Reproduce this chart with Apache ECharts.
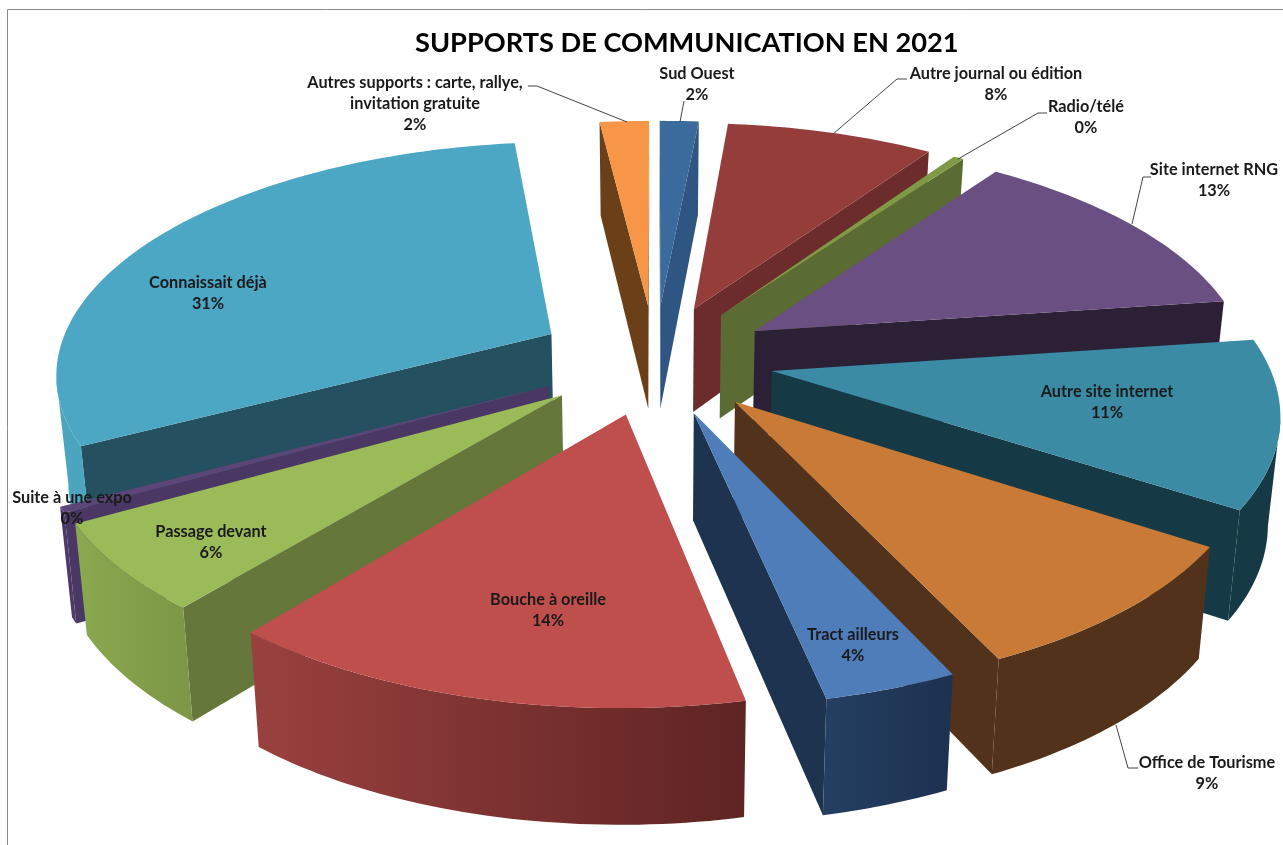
<!DOCTYPE html>
<html><head><meta charset="utf-8">
<style>html,body{margin:0;padding:0;background:#fff}#c{width:1283px;height:845px}</style>
<script src="https://cdn.jsdelivr.net/npm/echarts@6/dist/echarts.min.js"></script>
</head><body><div id="c"></div>
<script>
const titleText = 'SUPPORTS DE COMMUNICATION EN 2021';
const categories = ['Sud Ouest','Autre journal ou édition','Radio/télé','Site internet RNG','Autre site internet','Office de Tourisme','Tract ailleurs','Bouche à oreille','Passage devant','Suite à une expo','Connaissait déjà','Autres supports : carte, rallye,\ninvitation gratuite'];
const values = [1.5,8.0,0.4,12.9,11.4,8.9,3.6,14.2,5.9,0.4,30.9,1.9];
const topColors = ['#3B6A9C','#953D3B','#7F9A45','#6A4F82','#3B8BA5','#C87A36','#4E7DB9','#BE4F4C','#9BBB59','#5C4679','#4BA7C3','#F79646'];
const cutColors = ['#2F5682','#6B2C2B','#5A6B33','#2B2035','#163A45','#52321A','#1E3350','#5F2525','#65773A','#4A3764','#24505F','#6B3F17'];
const outerFrom = ['#2F5682','#6B2C2B','#5A6B33','#2B2035','#163A45','#52321A','#243F62','#9A413F','#8AA94F','#4D3A68','#4BA5BF','#6B3F17'];
const outerTo   = ['#2F5682','#6B2C2B','#5A6B33','#2B2035','#163A45','#52321A','#1D3150','#5E2423','#7D9746','#4D3A68','#4BA5BF','#6B3F17'];
// label layout: centre x, first-line centre y
const labelPlaces = [[697,74],[996,74],[1086,107],[1214,170],[1107,392],[1207,763],[853,635],[548,600],[211,532],[72,498],[208,283],[415,83]];
const leaders = [
  [[684,101],[680,122]],
  [[907,79],[897,79],[833,134]],
  [[1047,113],[1038,113],[958,159]],
  [[1151,177],[1143,177],[1132,224]],
  null,
  [[1116,725],[1128,768],[1138,768]],
  null,null,null,null,null,
  [[528,86],[537,86],[627,122]]
];

// projection of the tilted disc
const cx=655, cy=359, A=495, B=229, p=0.155, explode=0.24, D=105;
function proj(X,Y,down){
  const w=1-p*Y; let x=cx+A*X/w, y=cy+B*Y/w;
  if(down){ x=cx+(x-cx)*0.98; y+=D*(1+0.09*Y); }
  return [x,y];
}
const total=values.reduce((a,b)=>a+b,0);
const slices=[]; let acc=0;
values.forEach(v=>{
  const a0=acc/total*2*Math.PI; acc+=v; const a1=acc/total*2*Math.PI; const m=(a0+a1)/2;
  slices.push({a0,a1,ox:explode*Math.sin(m),oy:-explode*Math.cos(m),depth:-Math.cos(m)});
});
const order=slices.map((s,i)=>i).sort((i,j)=>slices[i].depth-slices[j].depth);

function renderItem(params){
  const i=params.dataIndex, s=slices[i], rank=order.indexOf(i)*10+10;
  const n=Math.max(2,Math.ceil((s.a1-s.a0)/0.02));
  const plane=[];
  for(let k=0;k<=n;k++){const t=s.a0+(s.a1-s.a0)*k/n; plane.push([s.ox+Math.sin(t),s.oy-Math.cos(t)]);}
  const top=plane.map(q=>proj(q[0],q[1],false)), bot=plane.map(q=>proj(q[0],q[1],true));
  const apT=proj(s.ox,s.oy,false), apB=proj(s.ox,s.oy,true);
  const kids=[];
  const poly=(pts,fill,z)=>kids.push({type:'polygon',z2:z,shape:{points:pts},style:{fill:fill,stroke:null}});
  // radial cut faces
  if(top[0][0]<apT[0]) poly([apT,top[0],bot[0],apB],cutColors[i],rank);
  if(apT[0]<top[n][0]) poly([top[n],apT,apB,bot[n]],cutColors[i],rank);
  // outer rim: the contiguous front-facing run
  const runT=[],runB=[];
  for(let k=0;k<n;k++){
    if(top[k+1][0]<top[k][0]){
      if(!runT.length){runT.push(top[k]);runB.push(bot[k]);}
      runT.push(top[k+1]);runB.push(bot[k+1]);
    }
  }
  if(runT.length){
    const xs=runT.map(q=>q[0]);
    const g={type:'linear',global:true,x:Math.min(...xs),y:0,x2:Math.max(...xs),y2:0,
      colorStops:[{offset:0,color:outerFrom[i]},{offset:1,color:outerTo[i]}]};
    poly(runT.concat(runB.slice().reverse()),g,rank+1);
  }
  poly([apT].concat(top),topColors[i],rank+2);
  // leader
  if(leaders[i]) kids.push({type:'polyline',z2:500,shape:{points:leaders[i]},style:{stroke:'#444',lineWidth:1,fill:null}});
  // label
  const lp=labelPlaces[i];
  const txt=categories[i]+'\n'+Math.round(values[i])+'%';
  kids.push({type:'text',z2:600,style:{text:txt,x:lp[0],y:lp[1]-10.5,align:'center',verticalAlign:'top',
    font:'bold 16.3px Lato',lineHeight:21,fill:'#1a1a1a'}});
  return {type:'group',children:kids};
}
const chart=echarts.init(document.getElementById('c'),null,{renderer:'canvas'});
chart.setOption({
  animation:false,
  backgroundColor:'#fff',
  title:{text:titleText,left:410,top:25,textStyle:{fontFamily:'Lato',fontSize:27.2,fontWeight:'bold',color:'#000'}},
  graphic:[
    {type:'line',shape:{x1:7.5,y1:9.5,x2:7.5,y2:845},style:{stroke:'#8a8a8a',lineWidth:1}},
    {type:'line',shape:{x1:7.5,y1:9.5,x2:1283,y2:9.5},style:{stroke:'#8a8a8a',lineWidth:1}}
  ],
  series:[{type:'custom',coordinateSystem:'none',renderItem:renderItem,clip:false,
    data:values.map((v,i)=>({name:categories[i],value:v}))}]
});
</script></body></html>
